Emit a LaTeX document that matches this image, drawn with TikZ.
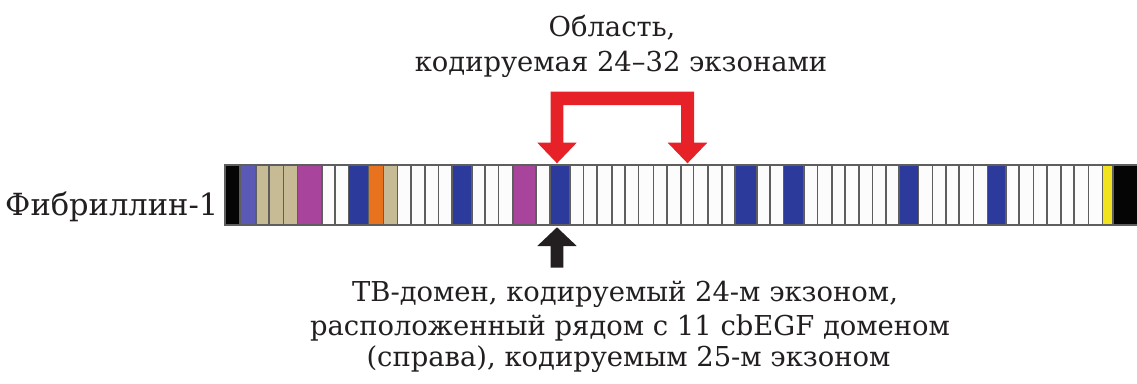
\documentclass[tikz,border=0pt]{standalone}
\usepackage{fontspec}
\newfontfamily\serifdv{DejaVu Serif}
\definecolor{ink}{HTML}{231F20}
\definecolor{sep}{HTML}{5E5E5E}
\definecolor{cbk}{HTML}{050505}
\definecolor{clb}{HTML}{5A5AB6}
\definecolor{ctn}{HTML}{C7BB96}
\definecolor{cmg}{HTML}{A8449C}
\definecolor{cwh}{HTML}{FCFCFC}
\definecolor{cbl}{HTML}{2C3A9C}
\definecolor{cor}{HTML}{E8721E}
\definecolor{cye}{HTML}{F2E41C}
\definecolor{arrred}{HTML}{E62228}
\tikzset{
  module/.style={draw=sep, line width=1.6pt},
  txt/.style={inner sep=0pt, text=ink, font=\fontsize{27.4}{32}\selectfont},
  bigtxt/.style={inner sep=0pt, text=ink, font=\fontsize{30.5}{34}\selectfont},
}
\begin{document}
\begin{tikzpicture}[x=1pt, y=-1pt]
\useasboundingbox (0,0) rectangle (1137,383);

% protein domain modules along the chain
\foreach \a/\b/\col in {
  225/240/cbk, 240/255.7/clb, 255.7/269/ctn, 269/283.3/ctn, 283.3/297.3/ctn,
  297.3/321.7/cmg, 321.7/335/cwh, 335/348.3/cwh, 348.3/368.3/cbl,
  368.3/383.3/cor, 383.3/397.3/ctn, 397.3/410.7/cwh, 410.7/425/cwh,
  425/438.3/cwh, 438.3/451.7/cwh, 451.7/471.7/cbl, 471.7/485/cwh,
  485/498.3/cwh, 498.3/512.7/cwh, 512.7/536/cmg, 536/550/cwh,
  550/570/cbl, 570/583.3/cwh, 583.3/596.7/cwh, 596.7/611.7/cwh,
  611.7/625/cwh, 625/638.3/cwh, 638.3/653.3/cwh, 653.3/666.7/cwh,
  666.7/680.7/cwh, 680.7/693.3/cwh, 693.3/707.7/cwh, 707.7/721.7/cwh,
  721.7/735/cwh, 735/756.7/cbl, 756.7/770/cwh, 770/783.3/cwh,
  783.3/804/cbl, 804/817.3/cwh, 817.3/831.7/cwh, 831.7/845/cwh,
  845/859/cwh, 859/872.3/cwh, 872.3/885.7/cwh, 885.7/899/cwh,
  899/918.3/cbl, 918.3/932.3/cwh, 932.3/945.7/cwh, 945.7/959/cwh,
  959/973.3/cwh, 973.3/987.3/cwh, 987.3/1005.7/cbl, 1005.7/1019/cwh,
  1019/1033.3/cwh, 1033.3/1046.7/cwh, 1046.7/1060.7/cwh, 1060.7/1074/cwh,
  1074/1088.3/cwh, 1088.3/1102.3/cwh, 1102.3/1112.7/cye, 1112.7/1137.5/cbk}
  \draw[module, fill=\col] (\a,165) rectangle (\b,225);

% red bracket arrow marking exons 24-32
\fill[arrred] (557,163.3) -- (576.7,142.7) -- (563.3,142.7) -- (563.3,105)
  -- (681,105) -- (681,142.7) -- (667.7,142.7) -- (687.5,163.3)
  -- (707.3,142.7) -- (694,142.7) -- (694,91.7) -- (550.7,91.7)
  -- (550.7,142.7) -- (537.3,142.7) -- cycle;

% black arrow pointing at the TB domain
\fill[ink] (557,227.3) -- (576.7,246) -- (563.3,246) -- (563.3,267.7)
  -- (550.7,267.7) -- (550.7,246) -- (537.3,246) -- cycle;

% labels
\node[bigtxt, anchor=base west] (name) at (5,215) {\serifdv Фибриллин-1};
\node[txt, anchor=base] (reg1) at (612,36) {\serifdv Область,};
\node[txt, anchor=base] (reg2) at (621,71.7) {\serifdv кодируемая 24–32 экзонами};
\node[txt, anchor=base] (tb1) at (625,301.7) {\serifdv ТВ-домен, кодируемый 24-м экзоном,};
\node[txt, anchor=base] (tb2) at (630,335) {\serifdv расположенный рядом с 11 cbEGF доменом};
\node[txt, anchor=base] (tb3) at (628.5,366.7) {\serifdv (справа), кодируемым 25-м экзоном};
\end{tikzpicture}
\end{document}
